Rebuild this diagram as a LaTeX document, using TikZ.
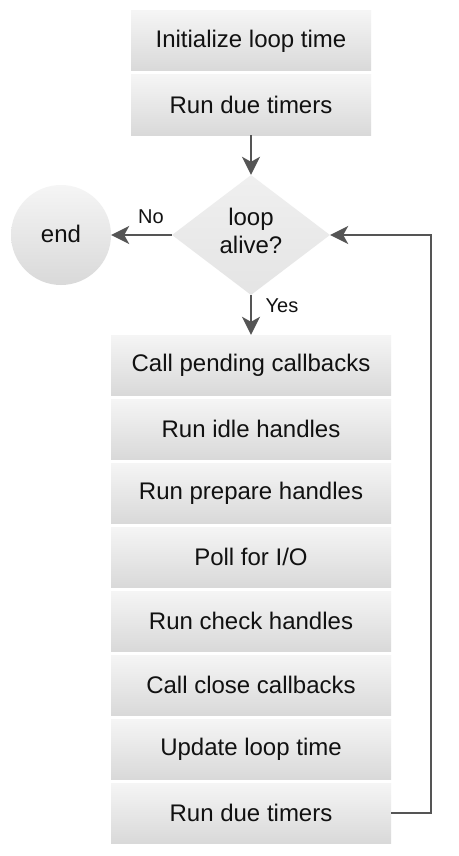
\documentclass[tikz,border=0pt]{standalone}
\usepackage{fontspec}
\setmainfont{Liberation Sans}
\usetikzlibrary{shapes.geometric,arrows.meta,positioning}
\definecolor{lineg}{HTML}{555555}
\definecolor{gtop}{HTML}{F5F5F5}
\definecolor{gbot}{HTML}{D9D9D9}
\definecolor{txt}{HTML}{111111}
\tikzset{
  stepbox/.style={rectangle, inner sep=0pt, top color=gtop, bottom color=gbot, draw=none,
    minimum height=60pt, text=txt, font=\fontsize{24}{28}\selectfont},
  topbox/.style={stepbox, minimum width=240pt},
  lowbox/.style={stepbox, minimum width=280pt},
  decide/.style={diamond, aspect=1.3167, inner sep=0pt, minimum width=158pt, minimum height=120pt,
    top color=gtop!80!gbot, bottom color=gbot!60!gtop, draw=none},
  decidetext/.style={text=txt, align=center, inner sep=0pt, font=\fontsize{24}{28}\selectfont},
  endnode/.style={circle, inner sep=0pt, minimum size=100pt, top color=gtop, bottom color=gbot,
    draw=none, text=txt, font=\fontsize{24}{28}\selectfont},
  conn/.style={draw=lineg, line width=2pt, -{Stealth[length=18pt,width=18pt,inset=5pt]}},
  lbl/.style={text=txt, font=\fontsize{20}{24}\selectfont, inner sep=0pt}
}
\begin{document}
\begin{tikzpicture}[x=1pt,y=-1pt]
\useasboundingbox (0,0) rectangle (458,856);
\fill[white] (0,0) rectangle (458,856);
\node[topbox] (init) at (251,41) {Initialize loop time};
\node[topbox] (timers1) at (251,105) {Run due timers};
\node[decide] (alive) at (251,235) {};
\node[decidetext] (alivetext) at (251,231) {loop\\alive?};
\node[endnode] (end) at (61,235) {\raisebox{2pt}{end}};
\node[lowbox] (pending) at (251,365) {Call pending callbacks};
\node[lowbox] (idle) at (251,429) {Run idle handles};
\node[lowbox] (prepare) at (251,493) {Run prepare handles};
\node[lowbox] (poll) at (251,557) {Poll for I/O};
\node[lowbox] (check) at (251,621) {Run check handles};
\node[lowbox] (close) at (251,685) {Call close callbacks};
\node[lowbox] (update) at (251,749) {Update loop time};
\node[lowbox] (timers2) at (251,813) {Run due timers};
\draw[conn] (timers1.south) -- (alive.north);
\draw[conn] (alive.west) -- (end.east);
\draw[conn] (alive.south) -- (pending.north);
\draw[conn] (timers2.east) -- ++(40,0) |- (alive.east);
\node[lbl] (nolbl) at (151,217) {No};
\node[lbl] (yeslbl) at (282,306) {Yes};
\end{tikzpicture}
\end{document}
